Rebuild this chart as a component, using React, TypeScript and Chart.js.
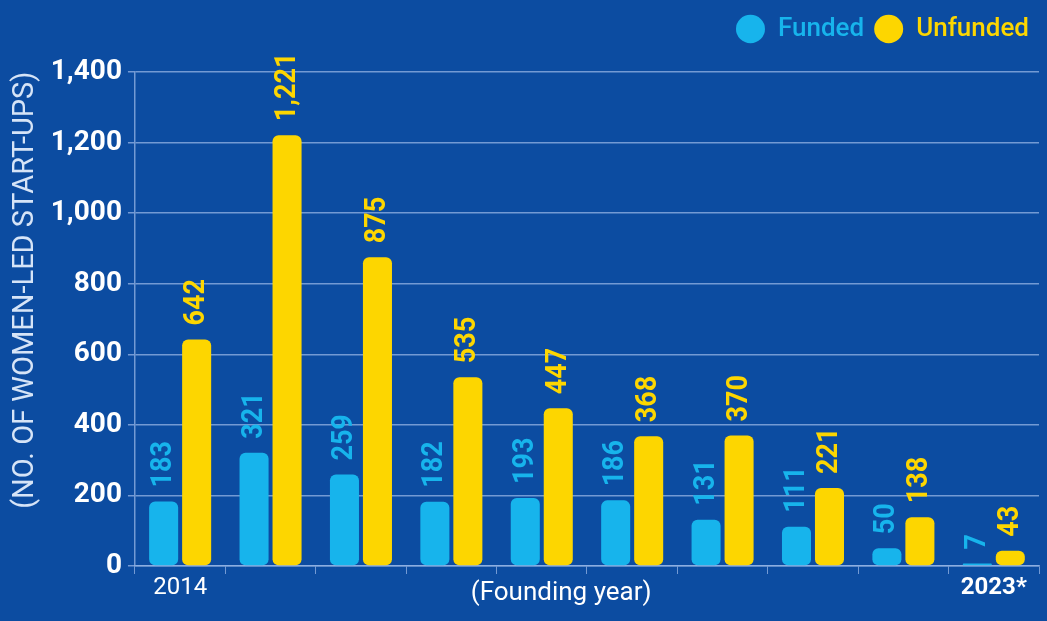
import React, { useEffect, useRef } from "react";
import { Chart, registerables } from "chart.js";

Chart.register(...registerables);

const categories = ["2014", "2015", "2016", "2017", "2018", "2019", "2020", "2021", "2022", "2023*"];
const fundedValues = [183, 321, 259, 182, 193, 186, 131, 111, 50, 7];
const unfundedValues = [642, 1221, 875, 535, 447, 368, 370, 221, 138, 43];
const seriesNames = ["Funded", "Unfunded"];
const yTitle = "        (NO. OF WOMEN-LED START-UPS)";
const xTitle = "(Founding year)        ";
const yMin = 0;
const yMax = 1400;
const yStep = 200;

const BG = "#0c4ca1";
const CYAN = "#17b4ec";
const YELLOW = "#fdd600";
const GRID = "rgba(150,180,230,0.75)";
const LABEL_WEIGHTS = ["bold", "bold"];

const valueLabels = {
  id: "valueLabels",
  afterDatasetsDraw(chart: any) {
    const ctx = chart.ctx;
    chart.data.datasets.forEach((ds: any, di: number) => {
      const meta = chart.getDatasetMeta(di);
      meta.data.forEach((bar: any, i: number) => {
        const v = ds.data[i] as number;
        ctx.save();
        ctx.translate(bar.x, bar.y - 14);
        ctx.rotate(-Math.PI / 2);
        ctx.scale(0.9, 1);
        ctx.font = `${LABEL_WEIGHTS[di]} 30px Roboto, sans-serif`;
        ctx.fillStyle = ds.backgroundColor;
        ctx.textAlign = "left";
        ctx.textBaseline = "middle";
        ctx.fillText(v.toLocaleString("en-US"), 0, 0);
        ctx.restore();
      });
    });
  },
};

const legendSpacing = {
  id: "legendSpacing",
  beforeLayout(chart: any) {
    const lg = chart.legend;
    if (lg && !lg.__patched) {
      const orig = lg.fit;
      lg.fit = function () {
        orig.call(this);
        this.height += 20;
      };
      lg.__patched = true;
    }
  },
};

export default function App() {
  const ref = useRef<HTMLCanvasElement>(null);

  useEffect(() => {
    document.body.style.margin = "0";
    const chart = new Chart(ref.current!, {
      type: "bar",
      data: {
        labels: categories,
        datasets: [
          {
            label: seriesNames[0],
            data: fundedValues,
            backgroundColor: CYAN,
            borderRadius: 6,
            borderSkipped: false,
            barPercentage: 0.88,
            categoryPercentage: 0.73,
          },
          {
            label: seriesNames[1],
            data: unfundedValues,
            backgroundColor: YELLOW,
            borderRadius: 6,
            borderSkipped: false,
            barPercentage: 0.88,
            categoryPercentage: 0.73,
          },
        ],
      },
      options: {
        responsive: false,
        animation: false,
        layout: { padding: { left: 8, right: 8, top: 6, bottom: 8 } },
        plugins: {
          tooltip: { enabled: false },
          legend: {
            position: "top",
            align: "end",
            labels: {
              usePointStyle: true,
              pointStyle: "circle",
              pointStyleWidth: 29,
              boxHeight: 20,
              padding: 10,
              font: { family: "Roboto, sans-serif", size: 26, weight: "500" },
              generateLabels(chart: any) {
                return chart.data.datasets.map((ds: any, i: number) => ({
                  text: ds.label,
                  fillStyle: ds.backgroundColor,
                  strokeStyle: ds.backgroundColor,
                  lineWidth: 0,
                  fontColor: ds.backgroundColor,
                  pointStyle: "circle",
                  hidden: false,
                  datasetIndex: i,
                }));
              },
            },
          },
        },
        scales: {
          x: {
            grid: {
              display: true,
              drawOnChartArea: false,
              drawTicks: true,
              tickLength: 8,
              color: GRID,
              offset: true,
            },
            border: { display: true, color: GRID, width: 1.5 },
            ticks: {
              color: "#ffffff",
              autoSkip: false,
              maxRotation: 0,
              padding: 0,
              font: (c: any) => ({
                family: "Roboto, sans-serif",
                size: 24,
                weight: c.index === categories.length - 1 ? "bold" : "normal",
              }),
              callback: (_v: any, i: number) =>
                i === 0 || i === categories.length - 1 ? categories[i] : "",
            },
            title: {
              display: true,
              text: xTitle,
              color: "#ffffff",
              font: { family: "Roboto, sans-serif", size: 26 },
              padding: { top: -25, bottom: 4 },
            },
          },
          y: {
            min: yMin,
            max: yMax,
            grid: { color: GRID, tickLength: 7, lineWidth: 1.5 },
            border: { display: true, color: GRID, width: 1.5 },
            ticks: {
              stepSize: yStep,
              color: "#ffffff",
              padding: 6,
              font: { family: "Roboto, sans-serif", size: 28, weight: "bold" },
              callback: (v: any) => Number(v).toLocaleString("en-US"),
            },
            title: {
              display: true,
              text: yTitle,
              color: "#d6e4f7",
              font: { family: "Roboto, sans-serif", size: 29 },
              padding: { top: 0, bottom: 2 },
            },
          },
        },
      },
      plugins: [valueLabels, legendSpacing],
    });
    return () => chart.destroy();
  }, []);

  return (
    <div style={{ position: "fixed", left: 0, top: 0, width: 1047, height: 621, background: BG }}>
      <canvas ref={ref} width={1047} height={621} style={{ width: 1047, height: 621, display: "block" }} />
    </div>
  );
}
